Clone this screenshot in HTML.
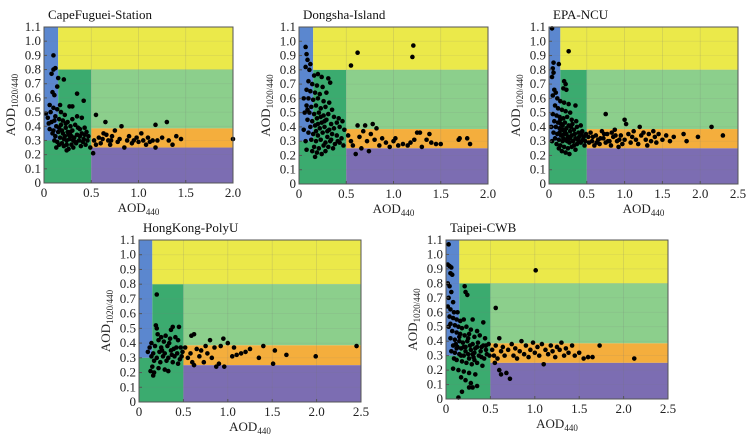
<!DOCTYPE html>
<html><head><meta charset="utf-8"><style>
html,body{margin:0;padding:0;background:#fff;}
svg{display:block;}
svg text{font-family:"Liberation Serif","DejaVu Serif",serif;}
</style></head><body>
<svg id="chart" width="751" height="444" viewBox="0 0 751 444"></svg>
<script>
// ---- data ----
const capeXTicks=[0,0.5,1.0,1.5,2.0];
const wideXTicks=[0,0.5,1.0,1.5,2.0,2.5];
const yTicks=[0,0.1,0.2,0.3,0.4,0.5,0.6,0.7,0.8,0.9,1.0,1.1];
const capePoints=[0.1,0.9,0.12,0.81,0.1,0.8,0.08,0.77,0.15,0.74,0.21,0.73,0.14,0.68,0.09,0.64,0.11,0.62,0.02,0.49,0.35,0.63,0.42,0.58,0.06,0.55,0.1,0.53,0.14,0.52,0.07,0.5,0.12,0.47,0.18,0.5,0.27,0.54,0.3,0.54,0.22,0.48,0.16,0.45,0.08,0.43,0.2,0.44,0.25,0.43,0.3,0.45,0.35,0.47,0.4,0.46,0.13,0.4,0.18,0.41,0.23,0.39,0.28,0.4,0.33,0.41,0.38,0.38,0.43,0.39,0.1,0.37,0.15,0.36,0.2,0.35,0.25,0.36,0.3,0.37,0.35,0.34,0.4,0.35,0.45,0.36,0.12,0.33,0.17,0.32,0.22,0.33,0.27,0.31,0.32,0.32,0.37,0.3,0.42,0.31,0.47,0.33,0.14,0.29,0.19,0.28,0.24,0.3,0.29,0.27,0.34,0.28,0.39,0.26,0.44,0.27,0.49,0.25,0.21,0.26,0.26,0.24,0.31,0.25,0.24,0.23,0.52,0.21,0.55,0.48,0.53,0.3,0.58,0.32,0.6,0.28,0.63,0.35,0.65,0.43,0.68,0.3,0.7,0.27,0.72,0.33,0.75,0.37,0.78,0.29,0.8,0.31,0.82,0.4,0.85,0.25,0.88,0.3,0.9,0.33,0.93,0.28,0.95,0.3,0.98,0.32,1.0,0.29,1.03,0.35,1.05,0.3,1.08,0.27,1.1,0.32,1.12,0.29,1.15,0.3,1.18,0.41,1.18,0.25,1.2,0.3,1.25,0.32,1.3,0.43,1.32,0.3,1.36,0.27,1.4,0.33,1.45,0.31,2.0,0.31,0.05,0.42,0.04,0.46,0.06,0.38,0.09,0.35,0.11,0.3,0.16,0.27,0.13,0.25,0.36,0.39,0.41,0.29,0.46,0.3,0.26,0.34,0.31,0.3,0.19,0.37,0.23,0.42,0.28,0.36,0.21,0.31,0.33,0.29,0.38,0.33,0.43,0.34,0.16,0.39,0.24,0.27,0.29,0.33,0.11,0.44,0.17,0.55,0.55,0.27,0.62,0.31,0.66,0.34,0.71,0.3];
const dongPoints=[0.55,0.83,0.62,0.92,1.2,0.89,1.21,0.97,0.07,0.96,0.08,0.91,0.09,0.87,0.12,0.84,0.07,0.82,0.11,0.8,0.16,0.76,0.2,0.77,0.24,0.75,0.31,0.74,0.33,0.71,0.1,0.72,0.14,0.7,0.19,0.69,0.25,0.68,0.08,0.66,0.12,0.65,0.17,0.64,0.22,0.63,0.29,0.64,0.05,0.6,0.1,0.6,0.15,0.59,0.2,0.6,0.26,0.58,0.32,0.57,0.08,0.55,0.13,0.54,0.18,0.55,0.23,0.53,0.28,0.54,0.35,0.52,0.11,0.5,0.16,0.49,0.21,0.5,0.26,0.48,0.31,0.49,0.37,0.47,0.42,0.46,0.09,0.45,0.14,0.44,0.19,0.46,0.24,0.43,0.29,0.45,0.34,0.42,0.4,0.43,0.46,0.44,0.12,0.4,0.17,0.41,0.22,0.39,0.27,0.4,0.32,0.38,0.37,0.39,0.43,0.4,0.48,0.38,0.1,0.36,0.15,0.35,0.2,0.34,0.25,0.36,0.3,0.33,0.35,0.35,0.4,0.34,0.45,0.32,0.13,0.31,0.18,0.3,0.23,0.31,0.28,0.29,0.33,0.3,0.38,0.28,0.43,0.29,0.16,0.26,0.21,0.25,0.26,0.27,0.31,0.26,0.36,0.25,0.14,0.23,0.19,0.22,0.24,0.21,0.28,0.23,0.17,0.19,0.08,0.24,0.52,0.34,0.55,0.3,0.57,0.27,0.6,0.21,0.62,0.41,0.64,0.33,0.66,0.25,0.68,0.37,0.7,0.41,0.72,0.3,0.74,0.23,0.76,0.35,0.78,0.42,0.8,0.31,0.82,0.39,0.85,0.27,0.88,0.32,0.92,0.29,0.96,0.26,1.0,0.3,1.02,0.32,1.05,0.27,1.1,0.28,1.15,0.27,1.18,0.29,1.22,0.31,1.25,0.36,1.28,0.36,1.3,0.26,1.35,0.31,1.38,0.35,1.4,0.29,1.45,0.28,1.5,0.28,1.69,0.31,1.7,0.32,1.78,0.32,1.81,0.28,0.06,0.5,0.05,0.38,0.07,0.3,0.09,0.52,0.27,0.44,0.2,0.42,0.3,0.37,0.23,0.47,0.18,0.37,0.34,0.31,0.41,0.3,0.47,0.27];
const epaPoints=[0.04,1.09,0.26,0.93,0.13,0.84,0.06,0.85,0.05,0.81,0.06,0.78,0.04,0.75,0.2,0.72,0.22,0.7,0.19,0.67,0.23,0.66,0.07,0.66,0.09,0.64,0.05,0.62,0.11,0.6,0.15,0.58,0.2,0.57,0.26,0.56,0.35,0.55,0.08,0.55,0.12,0.53,0.17,0.52,0.22,0.51,0.28,0.5,0.05,0.49,0.1,0.48,0.14,0.47,0.19,0.46,0.24,0.47,0.3,0.45,0.36,0.44,0.07,0.44,0.12,0.43,0.16,0.42,0.21,0.43,0.26,0.41,0.31,0.42,0.37,0.4,0.42,0.41,0.09,0.4,0.14,0.39,0.18,0.38,0.23,0.39,0.28,0.37,0.33,0.38,0.39,0.36,0.44,0.37,0.49,0.35,0.06,0.36,0.11,0.35,0.16,0.34,0.2,0.35,0.25,0.33,0.3,0.34,0.35,0.32,0.4,0.33,0.45,0.31,0.08,0.32,0.13,0.31,0.18,0.3,0.22,0.31,0.27,0.29,0.32,0.3,0.37,0.28,0.42,0.29,0.47,0.27,0.15,0.27,0.2,0.26,0.25,0.25,0.3,0.26,0.35,0.24,0.17,0.23,0.22,0.22,0.27,0.21,0.13,0.25,0.52,0.33,0.55,0.36,0.57,0.3,0.6,0.27,0.62,0.34,0.65,0.31,0.67,0.28,0.7,0.37,0.72,0.32,0.75,0.49,0.75,0.29,0.77,0.35,0.8,0.3,0.82,0.27,0.85,0.33,0.87,0.38,0.9,0.3,0.92,0.26,0.95,0.34,0.97,0.28,1.0,0.45,1.0,0.31,1.02,0.42,1.05,0.35,1.08,0.29,1.1,0.33,1.12,0.37,1.15,0.31,1.18,0.28,1.2,0.4,1.22,0.34,1.25,0.36,1.28,0.31,1.3,0.27,1.32,0.35,1.35,0.3,1.38,0.37,1.4,0.33,1.42,0.29,1.45,0.35,1.5,0.31,1.55,0.34,1.6,0.3,1.65,0.33,1.78,0.35,1.82,0.3,1.97,0.33,2.15,0.4,2.3,0.34,0.03,0.4,0.04,0.3,0.1,0.28,0.15,0.45,0.21,0.37,0.24,0.3,0.29,0.4,0.34,0.35,0.27,0.33,0.19,0.32,0.14,0.36,0.4,0.3,0.46,0.33,0.18,0.41,0.23,0.35,0.28,0.32,0.33,0.27,0.38,0.31,0.43,0.35,0.48,0.3,0.53,0.29,0.58,0.33,0.63,0.29,0.68,0.32,0.73,0.35,0.78,0.3,0.83,0.36,0.88,0.34,0.93,0.31];
const hkPoints=[0.2,0.73,0.19,0.52,0.2,0.5,0.38,0.51,0.45,0.51,0.36,0.49,0.62,0.46,0.59,0.45,0.21,0.46,0.3,0.45,0.41,0.44,0.14,0.4,0.22,0.42,0.28,0.41,0.35,0.43,0.44,0.42,0.12,0.37,0.18,0.38,0.25,0.37,0.32,0.38,0.39,0.36,0.47,0.37,0.1,0.34,0.16,0.33,0.23,0.34,0.29,0.33,0.36,0.35,0.43,0.33,0.49,0.34,0.14,0.31,0.2,0.3,0.27,0.31,0.33,0.3,0.4,0.31,0.46,0.29,0.17,0.28,0.24,0.27,0.31,0.28,0.38,0.27,0.44,0.26,0.15,0.24,0.22,0.23,0.29,0.22,0.13,0.21,0.17,0.2,0.16,0.18,0.33,0.21,0.52,0.37,0.55,0.3,0.58,0.33,0.6,0.27,0.62,0.25,0.65,0.36,0.68,0.31,0.7,0.35,0.73,0.27,0.75,0.38,0.77,0.33,0.8,0.42,0.82,0.3,0.85,0.37,0.87,0.24,0.9,0.26,0.92,0.38,0.95,0.43,0.96,0.24,1.0,0.4,1.05,0.31,1.07,0.37,1.1,0.32,1.15,0.33,1.2,0.34,1.25,0.36,1.35,0.3,1.4,0.38,1.51,0.26,1.53,0.35,1.66,0.32,1.99,0.31,2.45,0.38,0.25,0.44,0.34,0.4,0.42,0.37,0.48,0.31,0.26,0.35,0.37,0.32];
const taipeiPoints=[0.03,1.07,1.01,0.89,0.02,0.93,0.04,0.92,0.06,0.91,0.05,0.87,0.07,0.86,0.02,0.8,0.04,0.78,0.21,0.78,0.22,0.74,0.24,0.72,0.06,0.74,0.03,0.7,0.08,0.67,0.56,0.63,0.02,0.64,0.05,0.62,0.09,0.6,0.13,0.6,0.04,0.57,0.08,0.56,0.12,0.55,0.16,0.54,0.2,0.55,0.3,0.55,0.42,0.53,0.05,0.52,0.1,0.51,0.14,0.5,0.18,0.49,0.23,0.5,0.28,0.48,0.35,0.47,0.07,0.47,0.12,0.46,0.16,0.45,0.21,0.44,0.26,0.45,0.32,0.43,0.38,0.44,0.44,0.42,0.6,0.42,0.05,0.42,0.1,0.41,0.15,0.4,0.19,0.39,0.24,0.4,0.3,0.38,0.36,0.39,0.42,0.37,0.48,0.38,0.08,0.37,0.13,0.36,0.17,0.35,0.22,0.36,0.28,0.34,0.33,0.35,0.39,0.33,0.45,0.34,0.1,0.32,0.15,0.31,0.2,0.3,0.25,0.31,0.31,0.29,0.37,0.3,0.43,0.28,0.49,0.3,0.12,0.27,0.18,0.26,0.23,0.25,0.29,0.24,0.35,0.25,0.41,0.23,0.08,0.21,0.14,0.2,0.2,0.19,0.26,0.18,0.33,0.17,0.17,0.15,0.22,0.13,0.28,0.11,0.35,0.09,0.26,0.08,0.3,0.08,0.18,0.05,0.14,0.01,0.52,0.34,0.54,0.3,0.56,0.37,0.58,0.28,0.6,0.2,0.62,0.33,0.64,0.36,0.66,0.3,0.68,0.18,0.7,0.34,0.72,0.14,0.74,0.38,0.76,0.3,0.78,0.35,0.8,0.28,0.83,0.33,0.85,0.4,0.88,0.31,0.9,0.37,0.93,0.29,0.95,0.34,0.98,0.39,1.0,0.32,1.03,0.36,1.05,0.3,1.08,0.38,1.1,0.24,1.12,0.34,1.15,0.31,1.18,0.37,1.2,0.33,1.23,0.29,1.25,0.36,1.28,0.34,1.3,0.39,1.33,0.3,1.35,0.35,1.38,0.32,1.42,0.37,1.45,0.3,1.5,0.32,1.55,0.28,1.6,0.29,1.65,0.29,1.73,0.37,2.12,0.28,0.62,0.17,0.55,0.25,0.03,0.5,0.06,0.33,0.09,0.28,0.11,0.38,0.26,0.28,0.32,0.32,0.4,0.36,0.46,0.31,0.15,0.43,0.2,0.36,0.25,0.42,0.3,0.31,0.35,0.36,0.4,0.29,0.45,0.37,0.12,0.35,0.17,0.3,0.22,0.33,0.27,0.37,0.32,0.27];
const panelTitles=["CapeFuguei-Station","Dongsha-Island","EPA-NCU","HongKong-PolyU","Taipei-CWB"];

// ---- layout ----
const panels=[
 {name:"cape",title:panelTitles[0],x0:44,x1:233,y0:27,y1:183,xmax:2.0,xt:capeXTicks,pts:capePoints},
 {name:"dongsha",title:panelTitles[1],x0:299,x1:488,y0:27,y1:184,xmax:2.0,xt:capeXTicks,pts:dongPoints},
 {name:"epa-ncu",title:panelTitles[2],x0:549,x1:738,y0:27,y1:184,xmax:2.5,xt:wideXTicks,pts:epaPoints},
 {name:"hongkong",title:panelTitles[3],x0:139,x1:361,y0:240,y1:402,xmax:2.5,xt:wideXTicks,pts:hkPoints},
 {name:"taipei",title:panelTitles[4],x0:446,x1:668,y0:240,y1:399,xmax:2.5,xt:wideXTicks,pts:taipeiPoints}
];
const NS="http://www.w3.org/2000/svg";
const svg=document.getElementById('chart');
const FF='"Liberation Serif", serif';
function mk(tag,attrs,parent){const e=document.createElementNS(NS,tag);for(const k in attrs)e.setAttribute(k,attrs[k]);(parent||svg).appendChild(e);return e;}
function fmt(v){return v===0?"0":v.toFixed(1);}

panels.forEach(p=>{
  const g=mk('g',{});
  
  
  const sx=v=>p.x0+(v/p.xmax)*(p.x1-p.x0);
  const sy=v=>p.y1-(v/1.1)*(p.y1-p.y0);
  const rect=(xa,xb,ya,yb,fill,nm)=>{const r=mk('rect',{x:sx(xa),y:sy(yb),width:sx(xb)-sx(xa),height:sy(ya)-sy(yb),fill:fill},g);
    
    };
  rect(0,0.15,0.3,1.1,'#5b87cf','region-blue');
  rect(0,0.5,0,0.3,'#3bab6f','region-darkgreen-low');
  rect(0.15,0.5,0.3,0.8,'#3bab6f','region-darkgreen');
  rect(0.15,p.xmax,0.8,1.1,'#ebe94a','region-yellow');
  rect(0.5,p.xmax,0.385,0.8,'#8ccf8c','region-lightgreen');
  rect(0.5,p.xmax,0.25,0.385,'#f4ae3d','region-orange');
  rect(0.5,p.xmax,0,0.25,'#7c6db2','region-purple');
  p.xt.forEach(v=>{if(v>0&&v<p.xmax)mk('line',{x1:sx(v),x2:sx(v),y1:p.y0,y2:p.y1,stroke:'rgba(120,120,120,0.25)','stroke-width':0.7},g);});
  yTicks.forEach(v=>{if(v>0&&v<1.1)mk('line',{x1:p.x0,x2:p.x1,y1:sy(v),y2:sy(v),stroke:'rgba(120,120,120,0.15)','stroke-width':0.7},g);});
  for(let i=0;i<p.pts.length;i+=2){
    const c=mk('circle',{cx:sx(p.pts[i]),cy:sy(p.pts[i+1]),r:2.3,fill:'#000'},g);
    
    
  }
  const fr=mk('rect',{x:p.x0,y:p.y0,width:p.x1-p.x0,height:p.y1-p.y0,fill:'none',stroke:'#555','stroke-width':1},g);
  
  
  p.xt.forEach(v=>{
    mk('line',{x1:sx(v),x2:sx(v),y1:p.y1,y2:p.y1-3,stroke:'#555'},g);
    const t=mk('text',{x:sx(v),y:p.y1+14,'text-anchor':'middle','font-size':13,fill:'#222','font-family':FF},g);
    t.textContent=fmt(v);
    
    
  });
  yTicks.forEach(v=>{
    mk('line',{x1:p.x0,x2:p.x0+3,y1:sy(v),y2:sy(v),stroke:'#555'},g);
    const t=mk('text',{x:p.x0-3,y:sy(v)+4,'text-anchor':'end','font-size':13,fill:'#222','font-family':FF},g);
    t.textContent=fmt(v);
    
    
  });
  const tt=mk('text',{x:p.x0+4,y:p.y0-8,'font-size':13,fill:'#111','font-family':FF},g);
  tt.textContent=p.title;
  
  
  const xt=mk('text',{x:(p.x0+p.x1)/2,y:p.y1+29,'text-anchor':'middle','font-size':13,fill:'#222','font-family':FF},g);
  
  
  xt.innerHTML='AOD<tspan font-size="9" dy="3">440</tspan>';
  const yc=(p.y0+p.y1)/2, yx=p.x0-29;
  const yt=mk('text',{x:yx,y:yc,'text-anchor':'middle','font-size':13,fill:'#222','font-family':FF,transform:`rotate(-90 ${yx} ${yc})`},g);
  
  
  yt.innerHTML='AOD<tspan font-size="9" dy="3">1020/440</tspan>';
});
</script>
</body></html>
